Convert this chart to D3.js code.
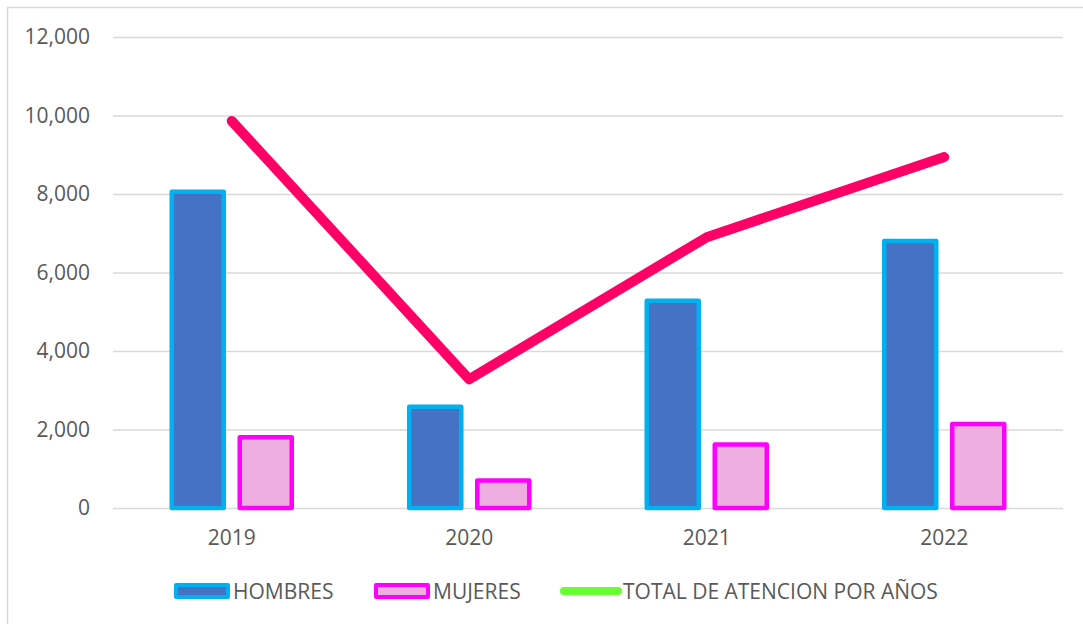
<!DOCTYPE html>
<html>
<head>
<meta charset="utf-8">
<script src="https://cdn.jsdelivr.net/npm/d3@7"></script>
<style>
  html, body { margin: 0; padding: 0; background: #fff; }
  svg { display: block; }
  text { font-family: "Open Sans", "Liberation Sans", sans-serif; fill: #595959; }
</style>
</head>
<body>
<svg id="chart" width="1083" height="624"></svg>
<script>
const years = ["2019", "2020", "2021", "2022"];
const hombres = [8060, 2580, 5280, 6800];
const mujeres = [1800, 700, 1620, 2140];
const totalAtencion = [9860, 3280, 6900, 8940];
const yTicks = [0, 2000, 4000, 6000, 8000, 10000, 12000];
const seriesNames = ["HOMBRES", "MUJERES", "TOTAL DE ATENCION POR AÑOS"];

const W = 1083, H = 624;
const FONT = 21;
const svg = d3.select("#chart");

// chart frame
svg.append("rect")
  .attr("x", 7.5).attr("y", 7.5)
  .attr("width", W + 10).attr("height", H + 10)
  .attr("fill", "#fff").attr("stroke", "#d9d9d9").attr("stroke-width", 1.5);

const plot = { left: 113, right: 1063, top: 37, bottom: 508 };

const y = d3.scaleLinear().domain([0, 12000]).range([plot.bottom, plot.top]);
const x0 = d3.scaleBand().domain(years).range([plot.left, plot.right]).padding(0);
const x1 = d3.scaleBand().domain(["h", "m"]).range([0, x0.bandwidth()])
  .paddingInner(0.235).paddingOuter(0.864);

// gridlines and value labels
const yAxis = d3.axisLeft(y).tickValues(yTicks)
  .tickSize(-(plot.right - plot.left)).tickPadding(23)
  .tickFormat(d3.format(","));
const gy = svg.append("g").attr("transform", `translate(${plot.left},0)`).call(yAxis);
gy.select(".domain").remove();
gy.selectAll(".tick line").attr("stroke", "#d9d9d9").attr("stroke-width", 1.5);
gy.selectAll(".tick text").attr("font-size", FONT).attr("fill", "#595959")
  .style("font-family", "'Open Sans', sans-serif");

// year labels
const xAxis = d3.axisBottom(x0).tickSize(0).tickPadding(22);
const gx = svg.append("g").attr("transform", `translate(0,${plot.bottom})`).call(xAxis);
gx.select(".domain").remove();
gx.selectAll(".tick text").attr("font-size", FONT).attr("fill", "#595959")
  .style("font-family", "'Open Sans', sans-serif");

const rows = years.map((yr, i) => ({ yr, h: hombres[i], m: mujeres[i], t: totalAtencion[i] }));

const groups = svg.append("g").selectAll("g").data(rows).join("g")
  .attr("transform", d => `translate(${x0(d.yr)},0)`);

groups.append("rect")
  .attr("x", x1("h")).attr("width", x1.bandwidth())
  .attr("y", d => y(d.h)).attr("height", d => y(0) - y(d.h))
  .attr("fill", "#4472C4").attr("stroke", "#00B0F0").attr("stroke-width", 4.5)
  .attr("stroke-linejoin", "round");

groups.append("rect")
  .attr("x", x1("m")).attr("width", x1.bandwidth())
  .attr("y", d => y(d.m)).attr("height", d => y(0) - y(d.m))
  .attr("fill", "#EFAEE0").attr("stroke", "#FF00FF").attr("stroke-width", 4.5)
  .attr("stroke-linejoin", "round");

// total line
const line = d3.line()
  .x(d => x0(d.yr) + x0.bandwidth() / 2)
  .y(d => y(d.t));
svg.append("path").datum(rows)
  .attr("d", line)
  .attr("fill", "none").attr("stroke", "#FF0066").attr("stroke-width", 10)
  .attr("stroke-linecap", "round").attr("stroke-linejoin", "round");

// legend
const legend = svg.append("g");
const ly = 591;
const items = [
  { name: seriesNames[0], x: 176, type: "rect", fill: "#4472C4", stroke: "#00B0F0" },
  { name: seriesNames[1], x: 376, type: "rect", fill: "#EFAEE0", stroke: "#FF00FF" },
  { name: seriesNames[2], x: 564, type: "line", stroke: "#66FF33" }
];
items.forEach(it => {
  if (it.type === "rect") {
    legend.append("rect").attr("x", it.x).attr("y", ly - 6).attr("width", 52).attr("height", 12)
      .attr("fill", it.fill).attr("stroke", it.stroke).attr("stroke-width", 4).attr("stroke-linejoin", "round");
  } else {
    legend.append("line").attr("x1", it.x).attr("x2", it.x + 54).attr("y1", ly).attr("y2", ly)
      .attr("stroke", it.stroke).attr("stroke-width", 8).attr("stroke-linecap", "round");
  }
  legend.append("text").attr("x", it.x + (it.type === "rect" ? 57 : 59)).attr("y", ly + 7.5)
    .attr("font-size", FONT).attr("fill", "#595959").text(it.name);
});
</script>
</body>
</html>
